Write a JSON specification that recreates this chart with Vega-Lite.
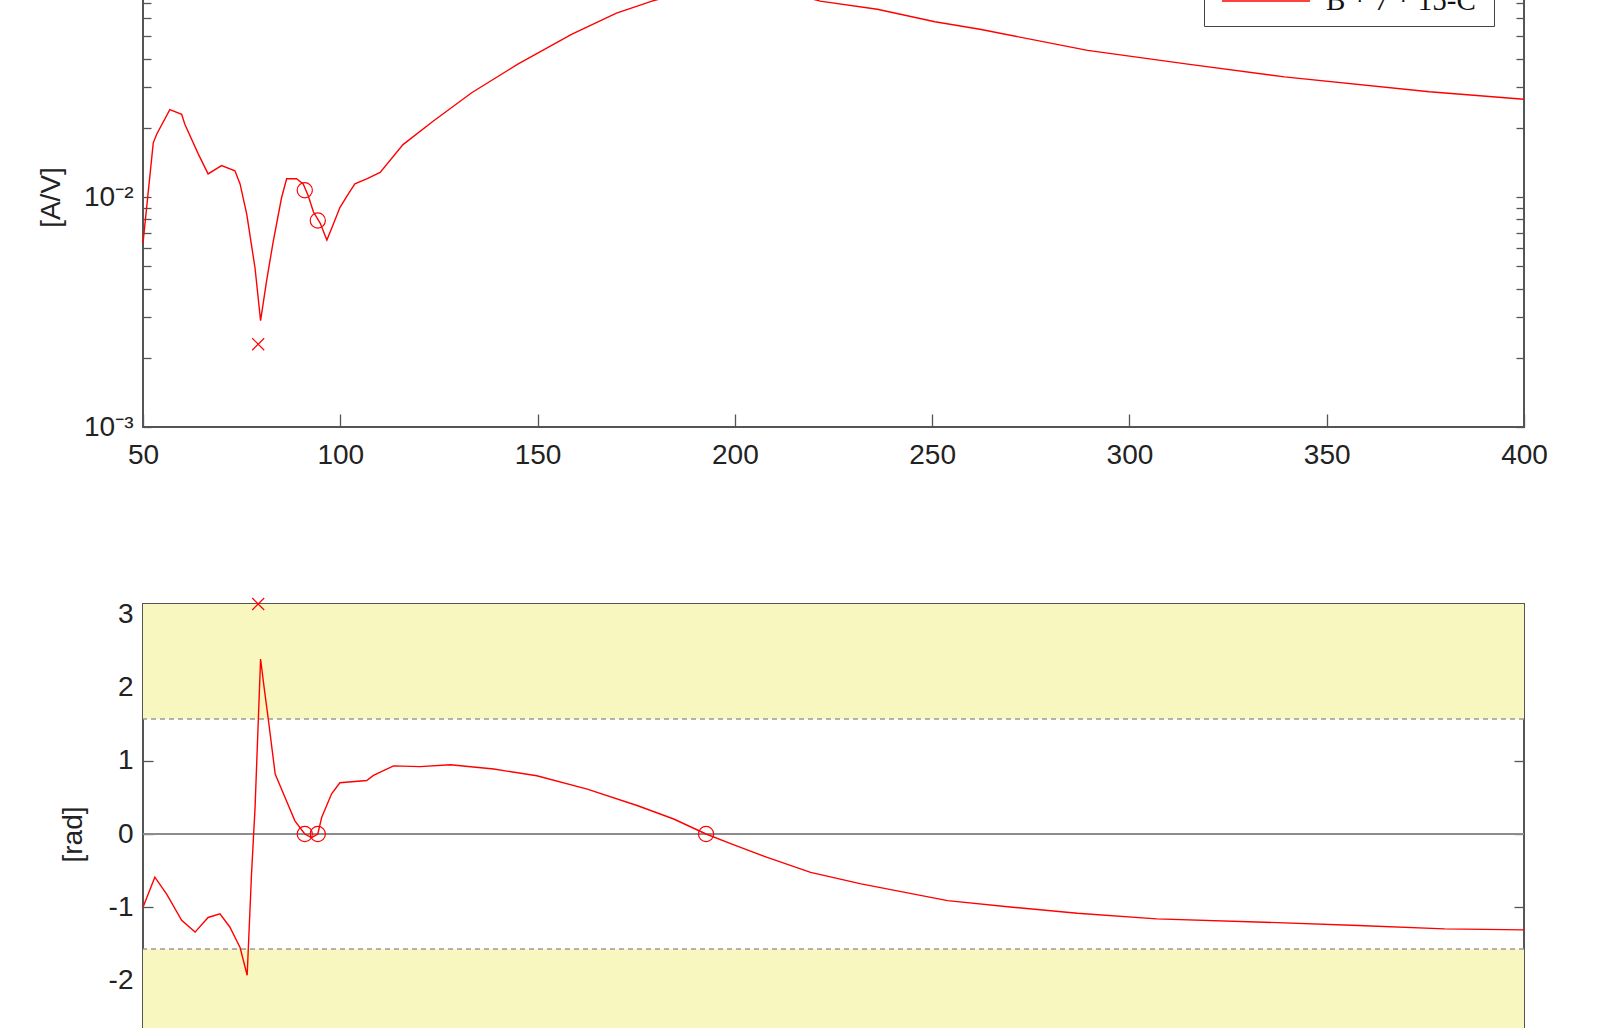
{
  "$schema": "https://vega.github.io/schema/vega-lite/v6.json",
  "background": "white",
  "padding": {"left": 36, "top": -48, "right": 52, "bottom": -75},
  "bounds": "flush",
  "spacing": 177,
  "config": {
    "view": {"stroke": "#555555", "strokeWidth": 2},
    "axis": {
      "labelFont": "Liberation Sans", "labelFontSize": 28, "labelColor": "#222222",
      "titleFont": "Liberation Sans", "titleFontSize": 28, "titleFontWeight": "normal", "titleColor": "#222222",
      "grid": false, "domain": false, "tickColor": "#555555", "tickWidth": 1.3,
      "labelOverlap": false, "labelFlush": false, "zindex": 0
    }
  },
  "datasets": {
    "mag": [
      {"f": 50, "v": 0.0063, "series": "B * 7 *  15-C"},
      {"f": 52.6, "v": 0.0172, "series": "B * 7 *  15-C"},
      {"f": 53.5, "v": 0.0188, "series": "B * 7 *  15-C"},
      {"f": 56.8, "v": 0.0240, "series": "B * 7 *  15-C"},
      {"f": 59.8, "v": 0.0229, "series": "B * 7 *  15-C"},
      {"f": 60.6, "v": 0.0207, "series": "B * 7 *  15-C"},
      {"f": 64.0, "v": 0.0154, "series": "B * 7 *  15-C"},
      {"f": 66.5, "v": 0.0126, "series": "B * 7 *  15-C"},
      {"f": 69.9, "v": 0.0137, "series": "B * 7 *  15-C"},
      {"f": 73.3, "v": 0.0130, "series": "B * 7 *  15-C"},
      {"f": 74.6, "v": 0.0114, "series": "B * 7 *  15-C"},
      {"f": 76.3, "v": 0.0084, "series": "B * 7 *  15-C"},
      {"f": 78.4, "v": 0.0049, "series": "B * 7 *  15-C"},
      {"f": 79.8, "v": 0.0029, "series": "B * 7 *  15-C"},
      {"f": 81.3, "v": 0.0043, "series": "B * 7 *  15-C"},
      {"f": 83.0, "v": 0.0064, "series": "B * 7 *  15-C"},
      {"f": 85.1, "v": 0.0099, "series": "B * 7 *  15-C"},
      {"f": 86.4, "v": 0.0120, "series": "B * 7 *  15-C"},
      {"f": 88.9, "v": 0.0120, "series": "B * 7 *  15-C"},
      {"f": 90.6, "v": 0.0114, "series": "B * 7 *  15-C"},
      {"f": 91.9, "v": 0.0101, "series": "B * 7 *  15-C"},
      {"f": 93.2, "v": 0.0086, "series": "B * 7 *  15-C"},
      {"f": 94.9, "v": 0.0077, "series": "B * 7 *  15-C"},
      {"f": 96.6, "v": 0.0065, "series": "B * 7 *  15-C"},
      {"f": 98.2, "v": 0.0076, "series": "B * 7 *  15-C"},
      {"f": 99.9, "v": 0.0090, "series": "B * 7 *  15-C"},
      {"f": 102.0, "v": 0.0103, "series": "B * 7 *  15-C"},
      {"f": 103.7, "v": 0.0114, "series": "B * 7 *  15-C"},
      {"f": 106.7, "v": 0.0120, "series": "B * 7 *  15-C"},
      {"f": 110.1, "v": 0.0128, "series": "B * 7 *  15-C"},
      {"f": 115.9, "v": 0.0169, "series": "B * 7 *  15-C"},
      {"f": 123.6, "v": 0.0214, "series": "B * 7 *  15-C"},
      {"f": 133.3, "v": 0.0284, "series": "B * 7 *  15-C"},
      {"f": 145.0, "v": 0.0378, "series": "B * 7 *  15-C"},
      {"f": 158.6, "v": 0.0509, "series": "B * 7 *  15-C"},
      {"f": 170.0, "v": 0.0630, "series": "B * 7 *  15-C"},
      {"f": 179.0, "v": 0.0711, "series": "B * 7 *  15-C"},
      {"f": 186.0, "v": 0.0765, "series": "B * 7 *  15-C"},
      {"f": 193.0, "v": 0.0795, "series": "B * 7 *  15-C"},
      {"f": 200.0, "v": 0.0805, "series": "B * 7 *  15-C"},
      {"f": 207.0, "v": 0.0800, "series": "B * 7 *  15-C"},
      {"f": 214.0, "v": 0.0770, "series": "B * 7 *  15-C"},
      {"f": 221.6, "v": 0.0711, "series": "B * 7 *  15-C"},
      {"f": 236.1, "v": 0.0655, "series": "B * 7 *  15-C"},
      {"f": 250.7, "v": 0.0578, "series": "B * 7 *  15-C"},
      {"f": 262.1, "v": 0.0536, "series": "B * 7 *  15-C"},
      {"f": 289.4, "v": 0.0434, "series": "B * 7 *  15-C"},
      {"f": 314.8, "v": 0.0378, "series": "B * 7 *  15-C"},
      {"f": 339.3, "v": 0.0333, "series": "B * 7 *  15-C"},
      {"f": 376.0, "v": 0.0287, "series": "B * 7 *  15-C"},
      {"f": 400.0, "v": 0.0266, "series": "B * 7 *  15-C"}
    ],
    "magMarks": [
      {"f": 91.0, "v": 0.0107, "kind": "o"},
      {"f": 94.3, "v": 0.0079, "kind": "o"},
      {"f": 192.7, "v": 0.0794, "kind": "o"},
      {"f": 79.2, "v": 0.00229, "kind": "x"}
    ],
    "phase": [
      {"f": 50, "p": -1.0},
      {"f": 53.0, "p": -0.59},
      {"f": 56.0, "p": -0.82},
      {"f": 59.8, "p": -1.18},
      {"f": 63.2, "p": -1.34},
      {"f": 66.5, "p": -1.14},
      {"f": 69.5, "p": -1.09},
      {"f": 72.0, "p": -1.27},
      {"f": 74.6, "p": -1.55},
      {"f": 76.4, "p": -1.93},
      {"f": 77.5, "p": -0.55},
      {"f": 78.4, "p": 0.36},
      {"f": 79.8, "p": 2.39},
      {"f": 80.7, "p": 2.0},
      {"f": 81.8, "p": 1.55},
      {"f": 83.5, "p": 0.82},
      {"f": 85.6, "p": 0.55},
      {"f": 88.5, "p": 0.18},
      {"f": 91.0, "p": 0.0},
      {"f": 92.7, "p": -0.05},
      {"f": 94.3, "p": 0.0},
      {"f": 95.3, "p": 0.23},
      {"f": 97.8, "p": 0.55},
      {"f": 99.9, "p": 0.70},
      {"f": 106.7, "p": 0.73},
      {"f": 108.4, "p": 0.80},
      {"f": 113.5, "p": 0.93},
      {"f": 120.2, "p": 0.92},
      {"f": 127.9, "p": 0.945},
      {"f": 138.9, "p": 0.887},
      {"f": 149.8, "p": 0.795},
      {"f": 162.6, "p": 0.614},
      {"f": 175.4, "p": 0.386},
      {"f": 184.5, "p": 0.205},
      {"f": 192.7, "p": 0.0},
      {"f": 199.1, "p": -0.136},
      {"f": 208.2, "p": -0.319},
      {"f": 219.2, "p": -0.524},
      {"f": 232.0, "p": -0.682},
      {"f": 253.9, "p": -0.91},
      {"f": 270.4, "p": -1.0},
      {"f": 286.8, "p": -1.083},
      {"f": 306.9, "p": -1.16},
      {"f": 334.2, "p": -1.205},
      {"f": 358.0, "p": -1.25},
      {"f": 379.9, "p": -1.296},
      {"f": 400.0, "p": -1.31}
    ],
    "phaseMarks": [
      {"f": 91.0, "p": 0.0, "kind": "o"},
      {"f": 94.3, "p": 0.0, "kind": "o"},
      {"f": 192.7, "p": 0.0, "kind": "o"},
      {"f": 79.2, "p": 3.1416, "kind": "x"}
    ],
    "bands": [
      {"lo": 1.5708, "hi": 3.14159},
      {"lo": -3.14159, "hi": -1.5708}
    ],
    "limits": [
      {"y": 1.5708},
      {"y": -1.5708}
    ],
    "zero": [
      {"y": 0}
    ]
  },
  "vconcat": [
    {
      "width": 1381,
      "height": 460,
      "layer": [
        {
          "data": {"name": "mag"},
          "mark": {"type": "line", "strokeWidth": 1.4},
          "encoding": {
            "x": {
              "field": "f", "type": "quantitative",
              "scale": {"domain": [50, 400], "nice": false, "zero": false},
              "axis": {"orient": "bottom", "values": [50, 100, 150, 200, 250, 300, 350, 400], "tickSize": -13, "labelPadding": 27, "title": null}
            },
            "y": {
              "field": "v", "type": "quantitative",
              "scale": {"type": "log", "domain": [0.001, 0.1], "nice": false},
              "axis": {
                "orient": "left",
                "values": [0.001, 0.002, 0.003, 0.004, 0.005, 0.006, 0.007, 0.008, 0.009, 0.01, 0.02, 0.03, 0.04, 0.05, 0.06, 0.07, 0.08, 0.09, 0.1],
                "tickSize": -8, "labelPadding": 18,
                "labelExpr": "abs(datum.value-0.001)<1e-9 ? '10⁻³' : abs(datum.value-0.01)<1e-9 ? '10⁻²' : abs(datum.value-0.1)<1e-9 ? '10⁻¹' : ''",
                "title": "[A/V]", "titlePadding": 18
              }
            },
            "color": {
              "field": "series", "type": "nominal",
              "scale": {"range": ["#ff0000"]},
              "legend": {
                "orient": "none", "legendX": 1061, "legendY": 11,
                "title": null, "symbolType": "stroke", "symbolSize": 7744, "symbolStrokeWidth": 1.5,
                "symbolOffset": 7, "clipHeight": 26, "padding": 10, "labelOffset": 15,
                "labelFont": "Liberation Serif", "labelFontSize": 29, "labelColor": "#111111", "labelLimit": 0,
                "strokeColor": "#444444", "fillColor": "white", "cornerRadius": 0
              }
            }
          }
        },
        {
          "data": {"name": "magMarks"},
          "transform": [{"filter": "datum.kind == 'o'"}],
          "mark": {"type": "point", "shape": "circle", "filled": false, "stroke": "#ff0000", "strokeWidth": 1.2, "size": 230, "opacity": 1, "clip": true},
          "encoding": {
            "x": {"field": "f", "type": "quantitative", "axis": null},
            "y": {
              "field": "v", "type": "quantitative",
              "axis": {
                "orient": "right",
                "values": [0.001, 0.002, 0.003, 0.004, 0.005, 0.006, 0.007, 0.008, 0.009, 0.01, 0.02, 0.03, 0.04, 0.05, 0.06, 0.07, 0.08, 0.09, 0.1],
                "tickSize": -8, "labels": false, "title": null
              }
            }
          }
        },
        {
          "data": {"name": "magMarks"},
          "transform": [{"filter": "datum.kind == 'x'"}],
          "mark": {"type": "point", "shape": "M-1,-1L1,1M-1,1L1,-1", "filled": false, "stroke": "#ff0000", "strokeWidth": 1.2, "size": 144, "opacity": 1},
          "encoding": {
            "x": {"field": "f", "type": "quantitative", "axis": null},
            "y": {"field": "v", "type": "quantitative", "axis": null}
          }
        }
      ],
      "resolve": {"axis": {"x": "independent", "y": "independent"}}
    },
    {
      "width": 1381,
      "height": 460,
      "layer": [
        {
          "data": {"name": "bands"},
          "mark": {"type": "rect", "color": "#f9f7c0", "opacity": 1},
          "encoding": {
            "y": {
              "field": "lo", "type": "quantitative",
              "scale": {"domain": [-3.14159, 3.14159], "nice": false, "zero": false},
              "axis": {
                "orient": "left", "values": [-3, -2, -1, 0, 1, 2, 3], "tickSize": -10, "labelPadding": 20,
                "labelExpr": "'' + datum.value", "title": "[rad]", "titlePadding": 21, "zindex": 0
              }
            },
            "y2": {"field": "hi"}
          }
        },
        {
          "data": {"name": "limits"},
          "mark": {"type": "rule", "color": "#9a9a9a", "strokeWidth": 1.3, "strokeDash": [5, 4]},
          "encoding": {"y": {"field": "y", "type": "quantitative", "axis": null}}
        },
        {
          "data": {"name": "zero"},
          "mark": {"type": "rule", "color": "#8c8c8c", "strokeWidth": 2},
          "encoding": {"y": {"field": "y", "type": "quantitative", "axis": null}}
        },
        {
          "data": {"name": "phase"},
          "mark": {"type": "line", "color": "#ff0000", "strokeWidth": 1.4},
          "encoding": {
            "x": {
              "field": "f", "type": "quantitative",
              "scale": {"domain": [50, 400], "nice": false, "zero": false},
              "axis": {"orient": "bottom", "values": [50, 100, 150, 200, 250, 300, 350, 400], "tickSize": -13, "labelPadding": 27, "title": null, "zindex": 0}
            },
            "y": {
              "field": "p", "type": "quantitative",
              "axis": {"orient": "right", "values": [-3, -2, -1, 0, 1, 2, 3], "tickSize": -10, "labels": false, "title": null, "zindex": 0}
            }
          }
        },
        {
          "data": {"name": "phaseMarks"},
          "transform": [{"filter": "datum.kind == 'o'"}],
          "mark": {"type": "point", "shape": "circle", "filled": false, "stroke": "#ff0000", "strokeWidth": 1.2, "size": 230, "opacity": 1},
          "encoding": {
            "x": {"field": "f", "type": "quantitative", "axis": null},
            "y": {"field": "p", "type": "quantitative", "axis": null}
          }
        },
        {
          "data": {"name": "phaseMarks"},
          "transform": [{"filter": "datum.kind == 'x'"}],
          "mark": {"type": "point", "shape": "M-1,-1L1,1M-1,1L1,-1", "filled": false, "stroke": "#ff0000", "strokeWidth": 1.2, "size": 144, "opacity": 1},
          "encoding": {
            "x": {"field": "f", "type": "quantitative", "axis": null},
            "y": {"field": "p", "type": "quantitative", "axis": null}
          }
        }
      ],
      "resolve": {"axis": {"x": "independent", "y": "independent"}}
    }
  ],
  "resolve": {"scale": {"color": "independent"}, "legend": {"color": "independent"}}
}
